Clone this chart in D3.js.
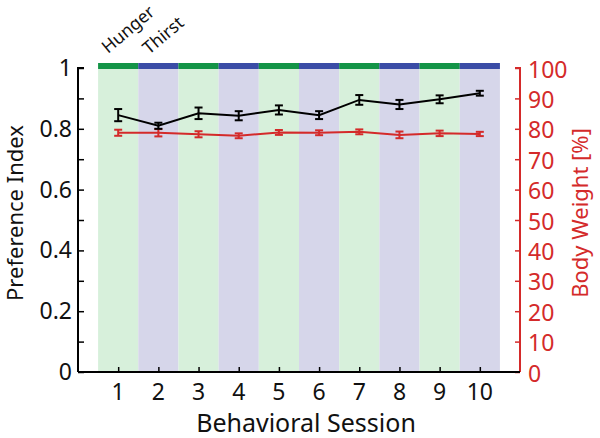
<!DOCTYPE html>
<html><head><meta charset="utf-8">
<script src="https://cdn.jsdelivr.net/npm/d3@7"></script>
<style>body{margin:0;background:#fff}svg{display:block}text{font-family:"Noto Sans",sans-serif}</style>
</head><body><svg id="c" width="600" height="438"></svg>
<script>
const sessions = [1,2,3,4,5,6,7,8,9,10];
const conditions = ["Hunger","Thirst","Hunger","Thirst","Hunger","Thirst","Hunger","Thirst","Hunger","Thirst"];
const prefIndex = [0.845,0.81,0.851,0.843,0.862,0.845,0.895,0.88,0.897,0.917];
const prefErr   = [0.02,0.01,0.019,0.015,0.015,0.013,0.016,0.015,0.013,0.008];
const bodyWeight = [78.7,78.7,78.2,77.7,78.8,78.7,79.0,78.0,78.5,78.3];
const bodyErr    = [1.0,1.2,1.0,0.8,0.8,0.8,0.8,1.1,0.9,0.7];
const leftTicks = [0,0.1,0.2,0.3,0.4,0.5,0.6,0.7,0.8,0.9,1];
const leftLabels = [0,0.2,0.4,0.6,0.8,1];
const rightTicks = [0,10,20,30,40,50,60,70,80,90,100];

const svg = d3.select("#c");
const x = d3.scaleLinear().domain([0,11]).range([78,520]);
const yL = d3.scaleLinear().domain([0,1]).range([372,68]);
const yR = d3.scaleLinear().domain([0,100]).range([372,68]);
const red = "#d42a2a";
const bandFill = {Hunger:"#d7f0db", Thirst:"#d6d6ea"};
const stripFill = {Hunger:"#139447", Thirst:"#3a4ca6"};

// background bands
svg.selectAll("rect.band").data(sessions).enter().append("rect")
  .attr("x", d=>x(d-0.5)).attr("width", d=>x(d+0.5)-x(d-0.5))
  .attr("y", yL(1)-5).attr("height", yL(0)-yL(1)+5)
  .attr("fill", (d,i)=>bandFill[conditions[i]]);
svg.selectAll("rect.strip").data(sessions).enter().append("rect")
  .attr("x", d=>x(d-0.5)).attr("width", d=>x(d+0.5)-x(d-0.5))
  .attr("y", yL(1)-5).attr("height", 6)
  .attr("fill", (d,i)=>stripFill[conditions[i]]);

// condition labels
[["Hunger",108,54],["Thirst",149,55]].forEach(([t,px,py])=>{
  svg.append("text").attr("transform",`translate(${px},${py}) rotate(-40)`)
    .attr("font-size",17.5).attr("fill","#111").text(t);
});

// left axis
const gL = svg.append("g").attr("transform","translate(78,0)");
gL.call(d3.axisRight(yL).tickValues(leftTicks).tickSize(6).tickFormat(""));
gL.select(".domain").attr("d",`M6,${yL(1)}H0V${yL(0)}`).attr("stroke","#000").attr("stroke-width",2);
gL.selectAll(".tick line").attr("stroke","#000").attr("stroke-width",1.5);
svg.selectAll("text.ll").data(leftLabels).enter().append("text")
  .attr("x",72).attr("y",d=>yL(d)+8).attr("text-anchor","end")
  .attr("font-size",23).attr("fill","#111").text(d=>d);
svg.append("text").attr("transform",`translate(23,${(yL(0)+yL(1))/2-7}) rotate(-90)`)
  .attr("text-anchor","middle").attr("font-size",22).attr("fill","#111").text("Preference Index");

// right axis
const gR = svg.append("g").attr("transform","translate(520,0)");
gR.call(d3.axisLeft(yR).tickValues(rightTicks).tickSize(5).tickFormat(""));
gR.select(".domain").attr("d",`M-5,${yR(100)}H0V${yR(0)}`).attr("stroke",red).attr("stroke-width",2);
gR.selectAll(".tick line").attr("stroke",red).attr("stroke-width",1.5);
svg.selectAll("text.rl").data(rightTicks).enter().append("text")
  .attr("x",528).attr("y",d=>yR(d)+9.5).attr("text-anchor","start")
  .attr("font-size",23).attr("fill",red).text(d=>d);
svg.append("text").attr("transform",`translate(588,${(yR(0)+yR(100))/2-7}) rotate(-90)`)
  .attr("text-anchor","middle").attr("font-size",22).attr("fill",red).text("Body Weight [%]");

// bottom axis
const gB = svg.append("g").attr("transform",`translate(0,${yL(0)})`);
gB.call(d3.axisTop(x).tickValues(sessions).tickSize(5).tickFormat(""));
gB.select(".domain").attr("d",`M78,0H520`).attr("stroke","#000").attr("stroke-width",2);
gB.selectAll(".tick line").attr("stroke","#000").attr("stroke-width",1.5);
svg.selectAll("text.xl").data(sessions).enter().append("text")
  .attr("x",d=>x(d)).attr("y",400).attr("text-anchor","middle")
  .attr("font-size",23).attr("fill","#111").text(d=>d);
svg.append("text").attr("x",306).attr("y",432).attr("text-anchor","middle")
  .attr("font-size",25).attr("fill","#111").text("Behavioral Session");

// series drawing
function series(vals, errs, y, color){
  const g = svg.append("g");
  g.append("path").datum(vals).attr("fill","none").attr("stroke",color).attr("stroke-width",2)
    .attr("d", d3.line().x((d,i)=>x(sessions[i])).y(d=>y(d)));
  const eb = g.selectAll("g.eb").data(vals).enter().append("g");
  eb.append("line").attr("x1",(d,i)=>x(sessions[i])).attr("x2",(d,i)=>x(sessions[i]))
    .attr("y1",(d,i)=>y(d-errs[i])).attr("y2",(d,i)=>y(d+errs[i])).attr("stroke",color).attr("stroke-width",2);
  [-1,1].forEach(s=>{
    eb.append("line").attr("x1",(d,i)=>x(sessions[i])-4).attr("x2",(d,i)=>x(sessions[i])+4)
      .attr("y1",(d,i)=>y(d+s*errs[i])).attr("y2",(d,i)=>y(d+s*errs[i])).attr("stroke",color).attr("stroke-width",2);
  });
}
series(bodyWeight, bodyErr, yR, red);
series(prefIndex, prefErr, yL, "#000");
</script></body></html>
